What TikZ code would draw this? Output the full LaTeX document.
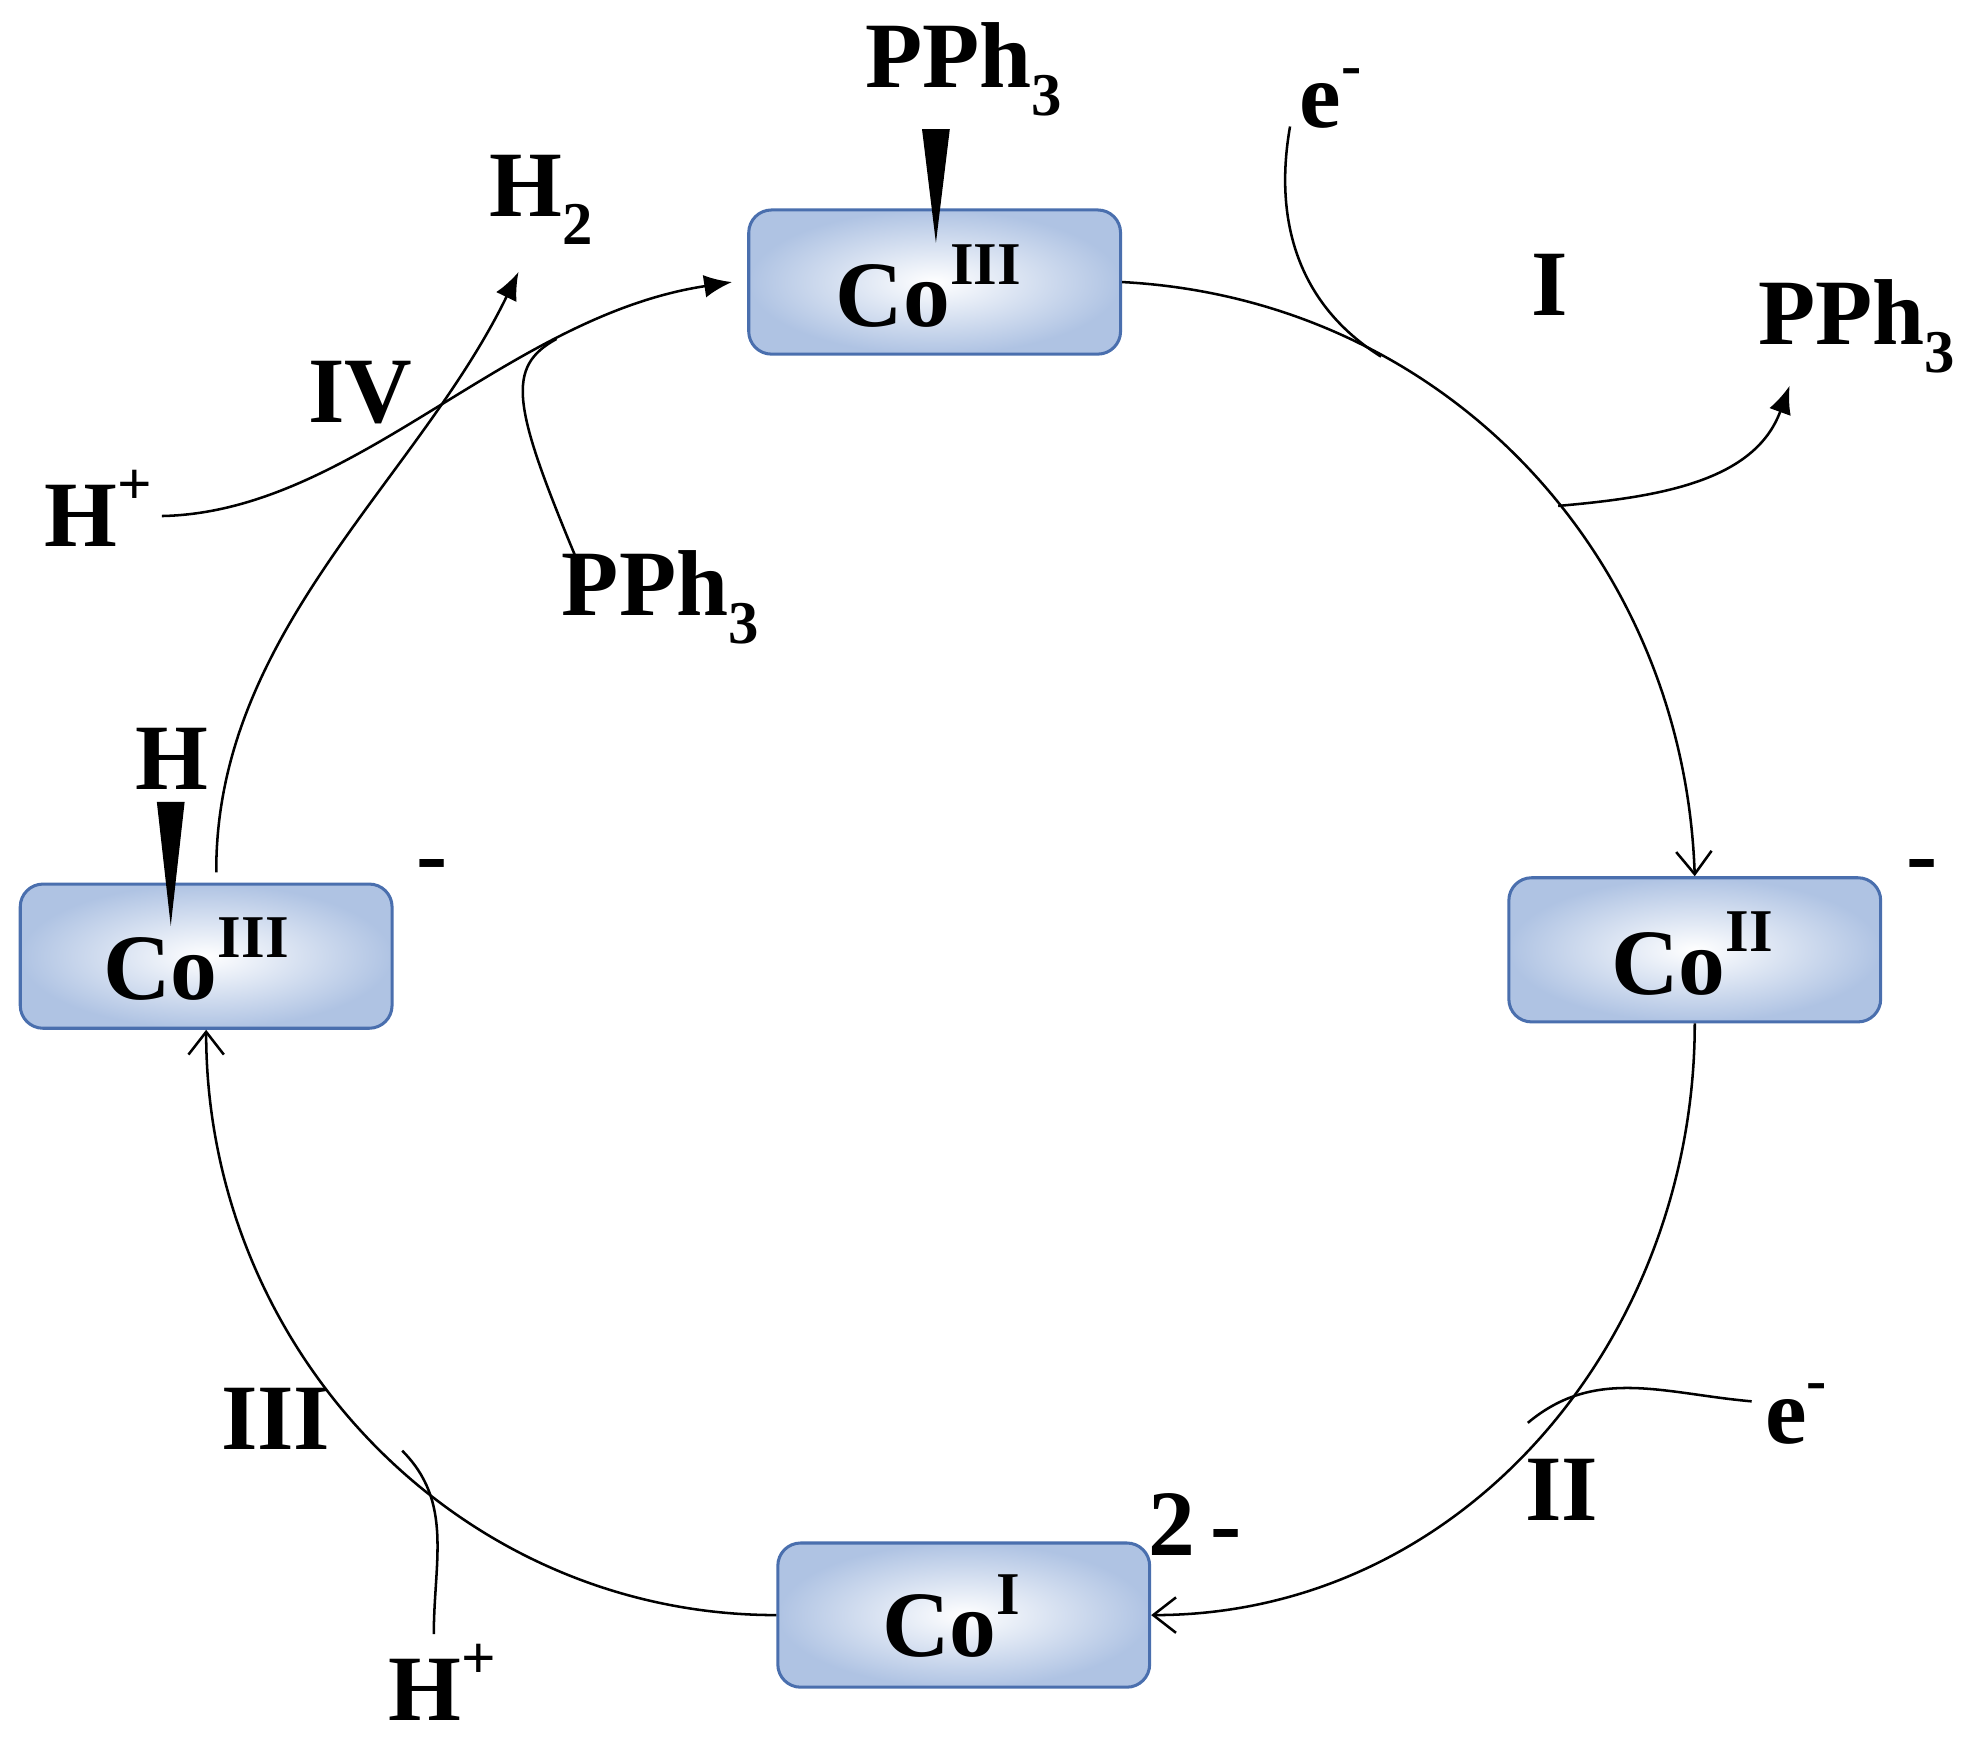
\documentclass[tikz,border=0pt]{standalone}
\usepackage{fontspec}
\setmainfont{Liberation Serif}
\usetikzlibrary{arrows.meta}
\newcommand{\hisup}[1]{\raisebox{0.45em}{\fontsize{24}{24}\selectfont #1}}
\newcommand{\losub}[1]{\raisebox{-0.3em}{\fontsize{24}{24}\selectfont #1}}
\definecolor{boxedge}{HTML}{4A6FAE}
\definecolor{boxout}{HTML}{AFC3E3}
\begin{document}
\begin{tikzpicture}[x=0.5pt,y=-0.5pt,
  cobox/.style={draw=boxedge,line width=1.2pt,rounded corners=9pt,minimum width=147pt,minimum height=57pt,
     inner color=white,outer color=boxout,font=\fontsize{37}{37}\selectfont\bfseries},
  lab/.style={font=\fontsize{37}{37}\selectfont\bfseries,inner sep=0pt},
  arc/.style={line width=1pt},
  open/.style={arc,-{Straight Barb[length=9pt,width=14pt]}},
  solid/.style={arc,-{Latex[length=11pt,width=9pt]}}]
\useasboundingbox (0,0) rectangle (1560,1378);
\node[cobox] (top) at (739,223) {};
\node[cobox] (right) at (1340,751) {};
\node[cobox] (bot) at (762,1277) {};
\node[cobox] (left) at (163,756) {};
\node[lab] (ttop) at (734,226) {Co\hisup{III}};
\node[lab] (tright) at (1338,754) {Co\hisup{II}};
\node[lab] (tbot) at (752,1278) {Co\hisup{I}};
\node[lab] (tleft) at (155,758) {Co\hisup{III}};
% wedges
\node[lab] (pphtop) at (762,55) {PPh\losub{3}};
\fill (729,102) -- (751,102) -- (740,192) -- cycle;
\node[lab] (hleft) at (136,600) {H};
\fill (124,634) -- (146,634) -- (135,732) -- cycle;
% charges
\node[lab] (mleft) at (342,690) {-};
\node[lab] (mright) at (1520,690) {-};
\node[lab] (mbot) at (945,1205) {2\,-};
% roman labels
\node[lab] (lI) at (1225,225) {I};
\node[lab] (lII) at (1235,1178) {II};
\node[lab] (lIII) at (218,1122) {III};
\node[lab] (lIV) at (285,310) {IV};
% cycle
\draw[open] (top.east) to[out=-3,in=92] (right.north);
\draw[open] (right.south) to[out=-90,in=0] (bot.east);
\draw[open] (bot.west) to[out=180,in=-90] (left.south);
\draw[solid] (left.north) ++(8,-8) coordinate (ls) .. controls (170,500) and (330,380) .. (410,215) coordinate (h2tip);
\node[lab] (h2) at (428,158) {H\losub{2}};
% IV
\node[lab] (hp1) at (78,402) {H\hisup{+}};
\coordinate (hp1s) at (128,408);
\draw[solid] (hp1s) .. controls (280,405) and (400,250) .. ([xshift=-6]top.west);
\node[lab] (pphl) at (522,472) {PPh\losub{3}};
\coordinate (pphls) at (455,440);
\draw[arc] (pphls) .. controls (405,320) and (400,290) .. (440,268);
% I
\node[lab] (e1) at (1052,78) {e\hisup{-}};
\coordinate (e1s) at (1020,100);
\draw[arc] (e1s) to[out=-100,in=148] (1092,282);
\coordinate (pphrs) at (1232,400);
\draw[solid] (pphrs) to[out=5,in=-110] (1415,305);
\node[lab] (pphr) at (1468,258) {PPh\losub{3}};
% II
\node[lab] (e2) at (1420,1118) {e\hisup{-}};
\coordinate (e2s) at (1385,1108);
\draw[arc] (e2s) to[out=175,in=40] (1208,1125);
% III
\node[lab] (hp2) at (350,1330) {H\hisup{+}};
\coordinate (hp2s) at (343,1292);
\draw[arc] (hp2s) to[out=90,in=-45] (318,1147);
\end{tikzpicture}
\end{document}
